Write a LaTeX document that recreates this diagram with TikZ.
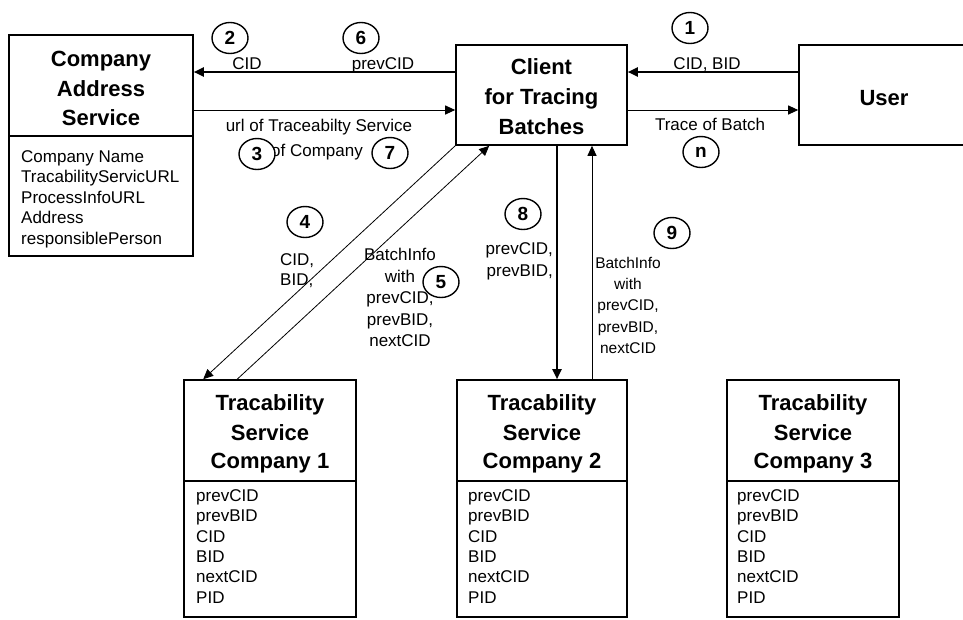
\documentclass[tikz,border=0pt]{standalone}
\usepackage{fontspec}
\setmainfont{Liberation Sans}
\usetikzlibrary{arrows.meta,shapes.geometric}
\begin{document}
\begin{tikzpicture}[x=1pt,y=-1pt,
  box/.style={draw, line width=1.6pt, inner sep=0pt},
  divider/.style={line width=1.1pt},
  ttl/.style={anchor=base, inner sep=0pt, font=\fontsize{22}{26}\selectfont\bfseries},
  item/.style={anchor=base west, inner sep=0pt, font=\fontsize{17}{20}\selectfont},
  lbl/.style={anchor=base, inner sep=0pt, font=\fontsize{17}{20}\selectfont},
  lblw/.style={anchor=base west, inner sep=0pt, font=\fontsize{17}{20}\selectfont},
  lble/.style={anchor=base east, inner sep=0pt, font=\fontsize{17}{20}\selectfont},
  lbls/.style={anchor=base, inner sep=0pt, font=\fontsize{15.5}{18}\selectfont},
  num/.style={ellipse, draw, line width=1.4pt, fill=white, minimum width=36pt, minimum height=31pt, inner sep=0pt, font=\fontsize{19}{22}\selectfont\bfseries},
  thickarr/.style={line width=2pt, -{Triangle[length=10pt,width=9pt]}},
  thinarr/.style={line width=1pt, -{Triangle[length=10pt,width=9pt]}},
  diagarr/.style={line width=0.8pt, -{Triangle[length=10pt,width=9pt]}}]
\useasboundingbox (0,0) rectangle (963,619);

% boxes
\node[box, minimum width=184pt, minimum height=221pt] (cas) at (101,145.5) {};
\node[box, minimum width=171pt, minimum height=100pt] (client) at (541.5,95) {};
\node[box, minimum width=180pt, minimum height=100pt] (user) at (889,95) {};
\node[box, minimum width=172pt, minimum height=237pt] (ts1) at (270,498.5) {};
\node[box, minimum width=170pt, minimum height=237pt] (ts2) at (542,498.5) {};
\node[box, minimum width=172pt, minimum height=237pt] (ts3) at (813,498.5) {};

% dividers
\coordinate (dA) at (0,136);
\coordinate (dB) at (0,481);
\draw[divider] (cas.west |- dA) -- (cas.east |- dA);
\foreach \t in {ts1,ts2,ts3}{
  \draw[divider] (\t.west |- dB) -- (\t.east |- dB);
}

% titles
\node[ttl] (cast1) at (101,66) {Company};
\node[ttl] (cast2) at (101,96) {Address};
\node[ttl] (cast3) at (101,125) {Service};
\node[ttl] (clt1) at (541.5,74) {Client};
\node[ttl] (clt2) at (541.5,104) {for Tracing};
\node[ttl] (clt3) at (541.5,134) {Batches};
\node[ttl] (usert) at (884,105) {User};
\foreach \t/\x/\n in {ts1/270/1,ts2/542/2,ts3/813/3}{
  \node[ttl] (\t-a) at (\x,410) {Tracability};
  \node[ttl] (\t-b) at (\x,440) {Service};
  \node[ttl] (\t-c) at (\x,468) {Company \n};
}

% lists
\foreach \y/\s [count=\i] in {162/Company Name,182.5/TracabilityServicURL,203/ProcessInfoURL,223.5/Address,244/responsiblePerson}{
  \node[item] (casl\i) at (21,\y) {\s};
}
\foreach \t/\x in {ts1/196,ts2/468,ts3/737}{
  \foreach \y/\s [count=\i] in {501/prevCID,521.5/prevBID,542/CID,562/BID,582.5/nextCID,603/PID}{
    \node[item] (\t-l\i) at (\x,\y) {\s};
  }
}

% connector helper coordinates
\coordinate (yA) at (0,72);
\coordinate (yB) at (0,110);
\coordinate (x8) at (557,0);
\coordinate (x9) at (592,0);

% connectors
\draw[thickarr] (client.west |- yA) -- (cas.east |- yA);
\draw[thinarr] (cas.east |- yB) -- (client.west |- yB);
\draw[thickarr] (user.west |- yA) -- (client.east |- yA);
\draw[thinarr] (client.east |- yB) -- (user.west |- yB);
\draw[diagarr] (client.south west) -- ([xshift=20pt]ts1.north west);
\draw[diagarr] ([xshift=54pt]ts1.north west) -- ([xshift=34pt]client.south west);
\draw[thickarr] (client.south -| x8) -- (ts2.north -| x8);
\draw[thinarr] (ts2.north -| x9) -- (client.south -| x9);

% labels
\node[lbl] (l2) at (247,69) {CID};
\node[lbl] (l6) at (383,69) {prevCID};
\node[lbl] (l1) at (707,69) {CID, BID};
\node[lbl] (l3a) at (319,131) {url of Traceabilty Service};
\node[lbl] (l3b) at (317,156) {of Company};
\node[lbl] (ln) at (710,130) {Trace of Batch};
\node[lblw] (l4a) at (280,265) {CID,};
\node[lblw] (l4b) at (280,285) {BID,};
\foreach \y/\s [count=\i] in {260/BatchInfo,282/with,303/{prevCID,},325/{prevBID,},346/nextCID}{
  \node[lbl] (l5-\i) at (400,\y) {\s};
}
\node[lble] (l8a) at (553,254) {prevCID,};
\node[lble] (l8b) at (553,276) {prevBID,};
\foreach \y/\s [count=\i] in {268/BatchInfo,289/with,310/{prevCID,},332/{prevBID,},353/nextCID}{
  \node[lbls] (l9-\i) at (628,\y) {\s};
}

% step numbers
\node[num] (n2) at (230,38) {2};
\node[num] (n6) at (361,38) {6};
\node[num] (n1) at (690,28) {1};
\node[num] (n3) at (257,154) {3};
\node[num] (n7) at (390,153) {7};
\node[num] (nn) at (701,152) {n};
\node[num] (n4) at (305,222) {4};
\node[num] (n8) at (523,214) {8};
\node[num] (n9) at (672,233) {9};
\node[num] (n5) at (441,282) {5};
\end{tikzpicture}
\end{document}
